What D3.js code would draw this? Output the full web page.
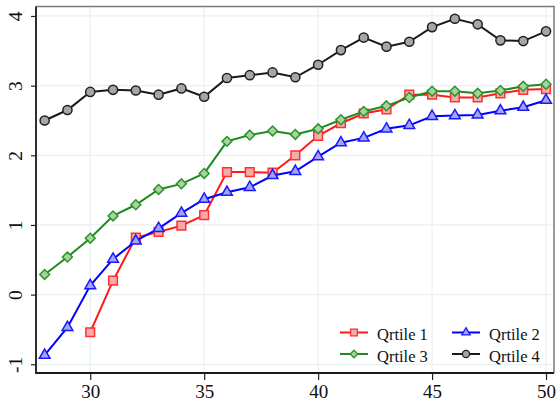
<!DOCTYPE html>
<html>
<head>
<meta charset="utf-8">
<script src="https://cdn.jsdelivr.net/npm/d3@7/dist/d3.min.js"></script>
<style>
  html, body { margin: 0; padding: 0; background: #fff; }
  svg { display: block; }
</style>
</head>
<body>
<svg id="chart" width="557" height="402"></svg>
<script>
// Age on the x axis
const ages = d3.range(28, 51);

// Series values by quartile (null where not observed)
const q1 = [null, null, -0.54, 0.20, 0.82, 0.90, 0.99, 1.14, 1.76, 1.76, 1.75, 2.00, 2.28, 2.46, 2.60, 2.66, 2.87, 2.87, 2.83, 2.83, 2.89, 2.94, 2.95];
const q2 = [-0.87, -0.47, 0.13, 0.51, 0.77, 0.95, 1.17, 1.37, 1.47, 1.54, 1.71, 1.77, 1.98, 2.18, 2.25, 2.38, 2.43, 2.56, 2.57, 2.58, 2.64, 2.69, 2.79];
const q3 = [0.29, 0.54, 0.81, 1.13, 1.29, 1.51, 1.59, 1.74, 2.20, 2.29, 2.35, 2.30, 2.38, 2.51, 2.63, 2.71, 2.83, 2.92, 2.92, 2.89, 2.93, 2.99, 3.02];
const q4 = [2.50, 2.65, 2.91, 2.94, 2.93, 2.87, 2.96, 2.84, 3.11, 3.15, 3.19, 3.12, 3.30, 3.51, 3.69, 3.56, 3.63, 3.84, 3.96, 3.88, 3.65, 3.64, 3.78];

const seriesNames = ["Qrtile 1", "Qrtile 2", "Qrtile 3", "Qrtile 4"];
const xTicks = [30, 35, 40, 45, 50];
const yTicks = [-1, 0, 1, 2, 3, 4];

const FONT = "'Liberation Serif', 'Times New Roman', serif";

const series = [
  { name: seriesNames[0], values: q1, line: "#ff1a1a", stroke: "#ff3030", fill: "#f7aaaa", shape: "square" },
  { name: seriesNames[1], values: q2, line: "#0000ff", stroke: "#1a1aff", fill: "#a4a4f4", shape: "triangle" },
  { name: seriesNames[2], values: q3, line: "#1f8a1f", stroke: "#2a962a", fill: "#a8d2a0", shape: "diamond" },
  { name: seriesNames[3], values: q4, line: "#1a1a1a", stroke: "#202020", fill: "#a6a6a6", shape: "circle" }
];

const svg = d3.select("#chart");
const plot = { left: 36, right: 554, top: 6.5, bottom: 373 };

const x = d3.scaleLinear().domain([27.62, 50.35]).range([plot.left, plot.right]);
const y = d3.scaleLinear().domain([-1.125, 4.136]).range([plot.bottom, plot.top]);

// Grid
const grid = svg.append("g").attr("stroke", "#e9f1f2").attr("stroke-width", 1.2);
grid.selectAll("line.h").data(yTicks).join("line")
  .attr("x1", plot.left).attr("x2", plot.right)
  .attr("y1", d => y(d)).attr("y2", d => y(d));
grid.selectAll("line.v").data(xTicks).join("line")
  .attr("y1", plot.top).attr("y2", plot.bottom)
  .attr("x1", d => x(d)).attr("x2", d => x(d));

// Plot region border (top and right)
svg.append("path")
  .attr("d", `M${plot.left},${plot.top}H${plot.right}V${plot.bottom}`)
  .attr("fill", "none").attr("stroke", "#7a7a7a").attr("stroke-width", 1.5);

// Axes
const xAxis = d3.axisBottom(x).tickValues(xTicks).tickSize(7).tickPadding(5).tickSizeOuter(0);
const gx = svg.append("g").attr("transform", `translate(0,${plot.bottom})`).call(xAxis)
  .attr("font-family", FONT).attr("font-size", 19);
gx.select(".domain").remove();
gx.selectAll(".tick line").attr("stroke", "#222").attr("stroke-width", 1.2);
gx.selectAll(".tick text").attr("fill", "#111")
  .attr("font-family", FONT).attr("font-size", 19).attr("dy", "0.7em");

const yAxis = d3.axisLeft(y).tickValues(yTicks).tickSize(5).tickSizeOuter(0).tickFormat(d3.format("d"));
const gy = svg.append("g").attr("transform", `translate(${plot.left},0)`).call(yAxis)
  .attr("font-family", FONT);
gy.select(".domain").remove();
gy.selectAll(".tick line").attr("stroke", "#222").attr("stroke-width", 1.2);
gy.selectAll(".tick text").remove();
gy.selectAll(".tick").append("text")
  .attr("transform", "translate(-21,0) rotate(-90)")
  .attr("text-anchor", "middle")
  .attr("dy", "0.35em")
  .attr("font-family", FONT)
  .attr("font-size", 19.5)
  .attr("fill", "#111")
  .text(d => d3.format("d")(d).replace("\u2212", "-"));

// Axis lines (left and bottom)
svg.append("path")
  .attr("d", `M${plot.left},${plot.top}V${plot.bottom}H${plot.right}`)
  .attr("fill", "none").attr("stroke", "#1a1a1a").attr("stroke-width", 1.8);

// Marker symbols
const symbolTypes = { square: d3.symbolSquare, triangle: d3.symbolTriangle, diamond: d3.symbolDiamond2, circle: d3.symbolCircle };
function symbolPath(shape, size) {
  return d3.symbol().type(symbolTypes[shape]).size(size)();
}
const markerSize = { square: 76, triangle: 50, diamond: 62, circle: 66 };

const line = d3.line()
  .defined(d => d.v !== null)
  .x(d => x(d.age)).y(d => y(d.v));

series.forEach(s => {
  const pts = ages.map((a, i) => ({ age: a, v: s.values[i] }));
  const g = svg.append("g");
  g.append("path").datum(pts)
    .attr("d", line)
    .attr("fill", "none").attr("stroke", s.line).attr("stroke-width", 2);
  g.selectAll("path.m").data(pts.filter(d => d.v !== null)).join("path")
    .attr("class", "m")
    .attr("transform", d => `translate(${x(d.age)},${y(d.v)})`)
    .attr("d", symbolPath(s.shape, markerSize[s.shape]))
    .attr("fill", s.fill).attr("stroke", s.stroke).attr("stroke-width", 1.5);
});

// Legend: two columns, two rows
const legendPos = [
  { kx: 340, ky: 332.5, tx: 377, ty: 339.5 },
  { kx: 452, ky: 332.5, tx: 489, ty: 339.5 },
  { kx: 340, ky: 354, tx: 377, ty: 361.5 },
  { kx: 452, ky: 354, tx: 489, ty: 361.5 }
];
series.forEach((s, i) => {
  const p = legendPos[i];
  const g = svg.append("g");
  g.append("line").attr("x1", p.kx).attr("x2", p.kx + 28)
    .attr("y1", p.ky).attr("y2", p.ky)
    .attr("stroke", s.line).attr("stroke-width", 2);
  g.append("path")
    .attr("transform", `translate(${p.kx + 14},${p.ky})`)
    .attr("d", symbolPath(s.shape, markerSize[s.shape] * 0.6))
    .attr("fill", s.fill).attr("stroke", s.stroke).attr("stroke-width", 1.3);
  g.append("text").attr("x", p.tx).attr("y", p.ty)
    .attr("font-family", FONT).attr("font-size", 16.5).attr("fill", "#111")
    .text(s.name);
});
</script>
</body>
</html>
